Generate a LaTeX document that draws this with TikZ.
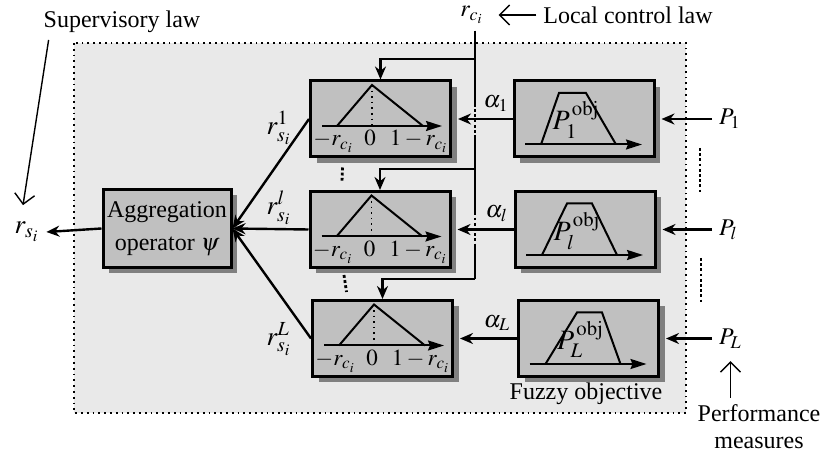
\documentclass[tikz,border=0pt]{standalone}
\usepackage{mathptmx}
\usepackage{fontspec}
\setmainfont{Liberation Serif}
\usetikzlibrary{arrows.meta, shadows}
\definecolor{bggray}{RGB}{233,233,233}
\definecolor{boxgray}{RGB}{192,192,192}
\definecolor{shgray}{RGB}{128,128,128}
\tikzset{
	blk/.style = {draw, line width=1.5pt, fill=boxgray, minimum width=70pt, minimum height=38pt, inner sep=0pt,
		general shadow={fill=shgray, shadow xshift=3pt, shadow yshift=-3pt}},
	wire/.style = {line width=1.2pt, arrows={-Stealth[length=6.5pt, width=5.5pt]}},
	bus/.style = {line width=1.2pt},
	dots/.style = {line width=1.4pt, dash pattern=on 1.4pt off 1.2pt},
	note/.style = {line width=0.7pt, arrows={-Straight Barb[length=5pt, width=10pt]}},
	curve/.style = {line width=1pt},
	axis/.style = {line width=1pt, arrows={-Stealth[length=8pt, width=5pt, inset=1pt]}},
	tick/.style = {anchor=base, font=\fontsize{11.5}{13}\selectfont},
	big/.style = {font=\fontsize{13.5}{15}\selectfont},
}

\begin{document}
\begin{tikzpicture}[x=0.5pt, y=-0.5pt, font=\fontsize{12}{14}\selectfont]
	\useasboundingbox (0,0) rectangle (825,458);
	\draw[dotted, line width=0.9pt, fill=bggray] (74,43) rectangle (686,413);

	% blocks
	\node[blk] (t1) at (380.5,119) {};
	\node[blk] (tl) at (380,229.5) {};
	\node[blk] (tL) at (382.5,338.5) {};
	\node[blk] (f1) at (584,119) {};
	\node[blk] (fl) at (585,229.5) {};
	\node[blk] (fL) at (588.5,338.5) {};
	\node[blk, minimum width=64pt, minimum height=39pt, align=center, font=\fontsize{12}{16.5}\selectfont] (agg) at (167,228.5) {Aggregation\\operator $\psi$};

	% triangles
	\foreach \n in {t1,tl,tL}{
		\begin{scope}[shift={(\n.center)}]
			\draw[axis] (-58.5,7) -- (61.5,7);
			\draw[curve] (-43.5,7) -- (-8.5,-34) -- (42.5,7);
			\draw[dotted, line width=0.8pt] (-8.5,-34) -- (-8.5,7);
			\node[tick] at (-47,27) {$-r_{c_i}$};
			\node[tick] at (-10.5,27) {$0$};
			\node[tick] at (38.5,27) {$1-r_{c_i}$};
		\end{scope}
	}

	% trapezoids
	\foreach \n/\s/\ta/\tb in {f1/1/-25/2, fl/l/-18/7, fL/L/-11.5/13.5}{
		\begin{scope}[shift={(\n.center)}]
			\draw[axis] (-59,25.5) -- (58,25.5);
			\draw[curve] (-43,25.5) -- (\ta,-26) -- (\tb,-26) -- (32,25.5);
			\node[anchor=base, font=\fontsize{14}{16}\selectfont] at (-8,11) {$P_{\s}^{\,\mathrm{obj}}$};
		\end{scope}
	}

	% labels
	\node (rci) at (472,15) {$r_{c_i}$};
	\node (lcl) at (628,15) {Local control law};
	\node (sup) at (122,22) {Supervisory law};
	\node[big] (rsi) at (27,232) {$r_{s_i}$};
	\node[big] (rs1) at (279,128) {$r_{s_i}^{1}$};
	\node[big] (rsl) at (279,208) {$r_{s_i}^{l}$};
	\node[big] (rsL) at (279,339) {$r_{s_i}^{L}$};
	\node[anchor=west] (p1) at (712,119) {$P_1$};
	\node[anchor=west] (pl) at (712,229.5) {$P_l$};
	\node[anchor=west] (pL) at (712,338.5) {$P_L$};
	\node (fuz) at (586,394) {Fuzzy objective};
	\node[align=center, font=\fontsize{12}{13.5}\selectfont] (pm) at (759,427) {Performance\\measures};

	% r_ci bus
	\coordinate (b1) at (475,59);
	\coordinate (b2) at (475,169);
	\coordinate (b3) at (475,279);
	\draw[bus] (rci.south -| b1) -- ([yshift=7.5pt]b1 |- t1.east);
	\draw[dots] ([yshift=7.5pt]b1 |- t1.east) -- ([yshift=-8.5pt]b1 |- t1.east);
	\draw[bus] ([yshift=-8.5pt]b1 |- t1.east) -- ([yshift=8.5pt]b1 |- tl.east);
	\draw[dots] ([yshift=8.5pt]b1 |- tl.east) -- ([yshift=-8.5pt]b1 |- tl.east);
	\draw[bus] ([yshift=-8.5pt]b1 |- tl.east) -- (b3);
	\draw[wire] (b1) -| (t1.north);
	\draw[wire] (b2) -| (tl.north);
	\draw[wire] (b3) -| (tL.north);

	% alpha
	\draw[wire] (f1.west) -- ([xshift=3pt]t1.east) node[pos=0.3, above] {$\alpha_1$};
	\draw[wire] (fl.west) -- ([xshift=3pt]tl.east) node[pos=0.3, above] {$\alpha_l$};
	\draw[wire] (fL.west) -- ([xshift=3pt]tL.east) node[pos=0.35, above] {$\alpha_L$};

	% performance inputs
	\draw[wire] (p1.west) -- ([xshift=3pt]f1.east);
	\draw[wire] (pl.west) -- ([xshift=3pt]fl.east);
	\draw[wire] (pL.west) -- ([xshift=3pt]fL.east);
	\draw[dots] (700,148) -- (700,192);
	\draw[dots] (701,258) -- (701,302);

	% aggregation
	\draw[wire] (t1.west) -- (agg.east);
	\draw[wire] (tl.west) -- (agg.east);
	\draw[wire] (tL.west) -- (agg.east);
	\draw[wire] (agg.west) -- (rsi.east);
	\draw[dots] ([xshift=-19pt,yshift=-4.5pt]t1.south) -- ([xshift=-19pt,yshift=4pt]tl.north);
	\draw[dots] ([xshift=-18pt,yshift=-3pt]tl.south) -- ([xshift=-18pt,yshift=3.5pt]tL.north);

	% annotations
	\draw[note] (lcl.west) -- ([xshift=4pt]rci.east);
	\draw[note] ([xshift=6pt]sup.south west) -- ([xshift=-2pt,yshift=5pt]rsi.north);
	\draw[note] (pL.south |- pm.north) -- ([yshift=-3pt]pL.south);
\end{tikzpicture}
\end{document}
